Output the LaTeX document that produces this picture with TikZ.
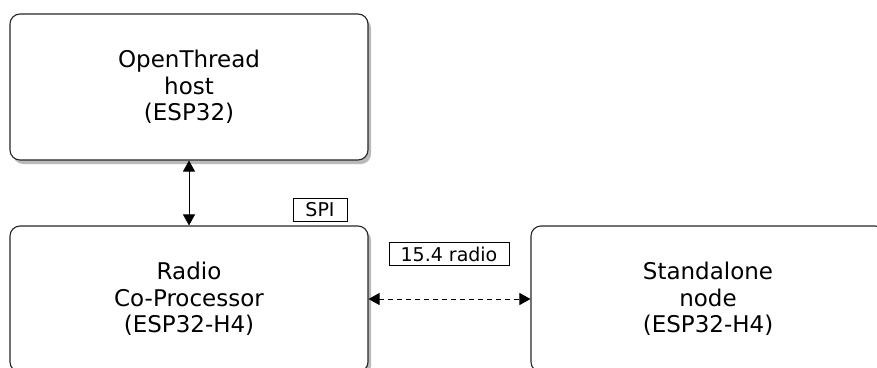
\documentclass[tikz,border=0pt]{standalone}
\usepackage{fontspec}
\setmainfont{DejaVu Sans}
\usetikzlibrary{shadows,arrows.meta}
\begin{document}
\begin{tikzpicture}[x=1pt,y=-1pt,
  box/.style={draw=black!85, line width=1.1pt, rounded corners=10pt, fill=white,
    align=center, inner sep=0pt, font=\fontsize{23}{26.5}\selectfont,
    drop shadow={shadow xshift=3pt, shadow yshift=-4pt, fill=black!45, opacity=0.6}},
  lbl/.style={draw=black, line width=0.9pt, fill=white, inner sep=0pt,
    font=\fontsize{19}{22}\selectfont},
  conn/.style={line width=1pt, {Triangle[length=11pt,width=12pt]}-{Triangle[length=11pt,width=12pt]}}]
\useasboundingbox (0,0) rectangle (877,367);
\clip (0,0) rectangle (877,367);
\fill[white] (0,0) rectangle (877,367);
\node[box, minimum width=358pt, minimum height=146pt] (host) at (189,87) {OpenThread\\host\\(ESP32)};
\node[box, minimum width=358pt, minimum height=146pt] (rcp) at (189,299) {Radio\\Co-Processor\\(ESP32-H4)};
\node[box, minimum width=354pt, minimum height=146pt] (alone) at (708,299) {Standalone\\node\\(ESP32-H4)};
\node[lbl, minimum width=54pt, minimum height=23pt] (spi) at (320,210) {SPI};
\node[lbl, minimum width=120pt, minimum height=23pt] (radio) at (449,254) {15.4 radio};
\draw[conn] (host) -- (rcp);
\draw[conn, dash pattern=on 5pt off 4pt] (rcp) -- (alone);
\end{tikzpicture}
\end{document}
